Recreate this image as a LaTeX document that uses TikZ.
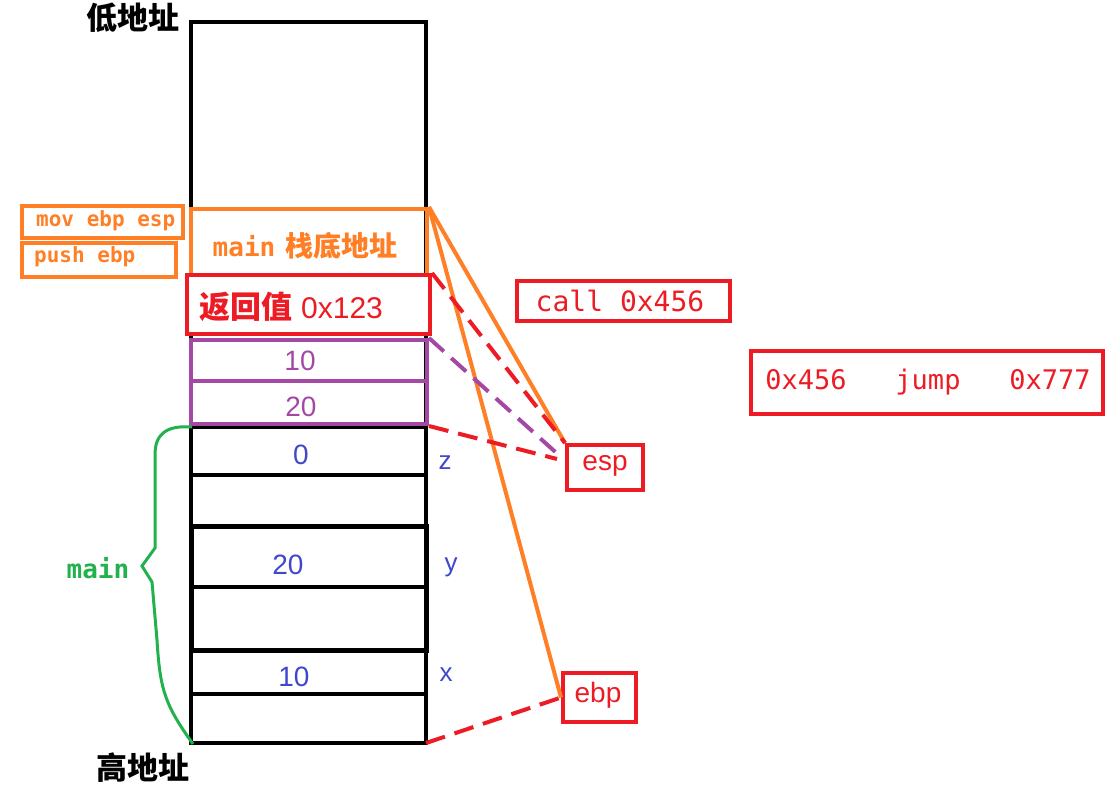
\documentclass[tikz,border=0pt]{standalone}
\usepackage{fontspec}
\newfontfamily\cjk{Noto Sans CJK SC}
\newfontfamily\mono{DejaVu Sans Mono}
\newfontfamily\arial{Liberation Sans}
\definecolor{pOrange}{RGB}{255,127,39}
\definecolor{pRed}{RGB}{237,28,36}
\definecolor{pPurple}{RGB}{163,73,164}
\definecolor{pBlue}{RGB}{63,72,204}
\definecolor{pGreen}{RGB}{34,177,76}
\newcommand{\fs}[1]{\fontsize{#1}{#1}\selectfont}
\tikzset{
  cell/.style={draw, line width=4pt, inner sep=0pt, rectangle},
  obox/.style={cell, draw=pOrange},
  rbox/.style={cell, draw=pRed},
  pbox/.style={cell, draw=pPurple},
  bluetxt/.style={text=pBlue, font=\arial\fs{28}, inner sep=0pt},
  varlbl/.style={text=pBlue, font=\arial\fs{26}, inner sep=0pt},
  ptxt/.style={text=pPurple, font=\arial\fs{28}, inner sep=0pt},
  olink/.style={draw=pOrange, line width=4pt},
  rdash/.style={draw=pRed, line width=4pt, dash pattern=on 20pt off 10pt},
  pdash/.style={draw=pPurple, line width=4pt, dash pattern=on 20pt off 10pt},
  blk/.style={line width=4pt, black},
}
\begin{document}
\begin{tikzpicture}[x=1pt,y=-1pt]
\useasboundingbox (0,0) rectangle (1113,784);
% stack column
\node[cell, minimum width=235pt, minimum height=721pt] (stack) at (308.5,382.5) {};
\draw[blk] (191,475) -- (426,475);
\draw[blk] (191,694) -- (426,694);
\draw[line width=5pt] (191,526) rectangle (426,650);
\draw[blk] (191,587) -- (426,587);
\draw[blk] (191,427) -- (426,427);
% coloured cells
\node[obox, minimum width=236pt, minimum height=66pt] (mainbase) at (309,242) {};
\node[text=pOrange, inner sep=0pt] (mainbaset) at (305,246) {{\mono\bfseries\fs{26}main}\hspace{10pt}{\cjk\bfseries\fs{28}栈底地址}};
\node[rbox, minimum width=243pt, minimum height=59pt, fill=white] (ret) at (308.5,304.5) {};
\node[text=pRed, inner sep=0pt, anchor=west] (rett) at (199,307) {{\cjk\bfseries\fs{31}返回值}\hspace{9pt}{\arial\fs{30}0x123}};
\node[pbox, minimum width=236pt, minimum height=41pt] (p10) at (309,360.5) {};
\node[pbox, minimum width=236pt, minimum height=43pt] (p20) at (309,402.5) {};
\node[ptxt] (p10t) at (300,361) {10};
\node[ptxt] (p20t) at (301,407) {20};
% blue values
\node[bluetxt] (v0) at (301,455) {0};
\node[bluetxt] (v20) at (288,565) {20};
\node[bluetxt] (v10) at (294,677) {10};
\node[varlbl] (vz) at (445,463) {z};
\node[varlbl] (vy) at (451,567) {y};
\node[varlbl] (vx) at (446,675) {x};
% address labels
\node[inner sep=0pt, font=\cjk\bfseries\fs{31}] (low) at (133,18) {低地址};
\node[inner sep=0pt, font=\cjk\bfseries\fs{31}] (high) at (143,768) {高地址};
% instruction boxes
\node[obox, minimum width=161pt, minimum height=32pt] (movbox) at (102.5,222) {};
\node[text=pOrange, inner sep=0pt, anchor=west, font=\mono\bfseries\fs{21}] (movt) at (36,221) {mov ebp esp};
\node[obox, minimum width=154pt, minimum height=34pt] (pushbox) at (99,260) {};
\node[text=pOrange, inner sep=0pt, anchor=west, font=\mono\bfseries\fs{21}] (pusht) at (34,257) {push ebp};
\node[rbox, minimum width=213pt, minimum height=40pt] (callbox) at (623.5,301) {};
\node[text=pRed, inner sep=0pt, font=\mono\fs{28}] (callt) at (620,301) {call 0x456};
\node[rbox, minimum width=352pt, minimum height=63pt] (jumpbox) at (927,382.5) {};
\node[text=pRed, inner sep=0pt, font=\mono\fs{27}] (jumpt) at (928,382) {0x456\ \ \ jump\ \ \ 0x777};
\node[rbox, minimum width=76pt, minimum height=45pt] (esp) at (605,467.5) {};
\node[text=pRed, inner sep=0pt, font=\arial\fs{28}] (espt) at (605,466) {esp};
\node[rbox, minimum width=73pt, minimum height=49pt] (ebp) at (599.5,697.5) {};
\node[text=pRed, inner sep=0pt, font=\arial\fs{28}] (ebpt) at (598,695) {ebp};
% brace
\draw[pGreen, line width=3pt] (192,427) .. controls (165,425) and (155,435) .. (155,455)
  -- (155,548) -- (142,566) -- (152,582) -- (157,640) .. controls (160,690) and (165,705) .. (193,744);
\node[text=pGreen, inner sep=0pt, font=\mono\bfseries\fs{26}] (mainlbl) at (98,568) {main};
% connectors
\coordinate (pend) at (562,458);
\coordinate (rend) at (557,459);
\coordinate (sbot) at (426,743);
\draw[olink] (mainbase.north east) -- (esp.north west);
\draw[olink] (mainbase.north east) -- (ebp.west);
\draw[rdash] (ret.north east) -- (esp.north west);
\draw[pdash] (p10.north east) -- (pend);
\draw[rdash] (p20.south east) -- (rend);
\draw[rdash] (sbot) -- (ebp.west);
\end{tikzpicture}
\end{document}
